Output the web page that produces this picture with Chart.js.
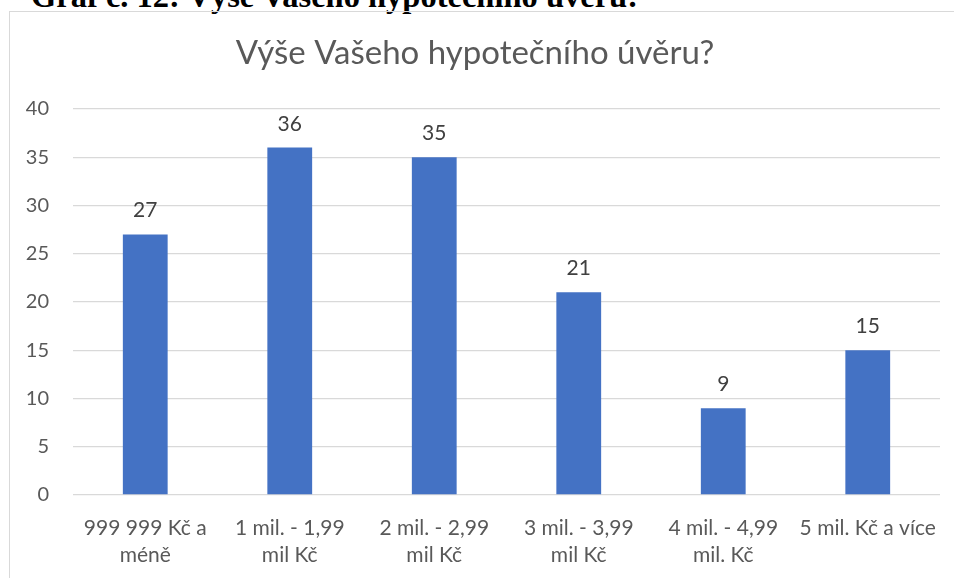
<!DOCTYPE html>
<html>
<head>
<meta charset="utf-8">
<script src="https://cdn.jsdelivr.net/npm/chart.js@4.4.1/dist/chart.umd.min.js"></script>
<style>
  html, body { margin: 0; padding: 0; background: #fff; overflow: hidden; width: 954px; height: 578px; }
  #caption { position: absolute; left: 31px; top: -20px; font: bold 32.5px "Liberation Serif", "Times New Roman", serif; line-height: 1; color: #000; white-space: nowrap; }
  #frame { position: absolute; left: 9px; top: 11px; width: 1000px; height: 600px; border: 1px solid #d9d9d9; background: transparent; }
  #wrap { position: absolute; left: 0; top: 0; width: 944px; height: 566px; }
</style>
</head>
<body>
<div id="caption">Graf č. 12: Výše Vašeho hypotečního úvěru:</div>
<div id="frame"><div id="wrap"><canvas id="c"></canvas></div></div>
<script>
const chartTitle = "Výše Vašeho hypotečního úvěru?";
const categories = [
  ["999 999 Kč a", "méně"],
  ["1 mil. - 1,99", "mil Kč"],
  ["2 mil. - 2,99", "mil Kč"],
  ["3 mil. - 3,99", "mil Kč"],
  ["4 mil. - 4,99", "mil. Kč"],
  ["5 mil. Kč a více"]
];
const values = [27, 36, 35, 21, 9, 15];
const yTicks = [0, 5, 10, 15, 20, 25, 30, 35, 40];

const FONT = "Lato, 'Open Sans', sans-serif";

const valueLabels = {
  id: 'valueLabels',
  afterDatasetsDraw(chart) {
    const ctx = chart.ctx;
    const meta = chart.getDatasetMeta(0);
    ctx.save();
    ctx.font = "21px " + FONT;
    ctx.fillStyle = "#404040";
    ctx.textAlign = "center";
    ctx.textBaseline = "alphabetic";
    meta.data.forEach((bar, i) => {
      ctx.fillText(String(values[i]), bar.x, bar.y - 17);
    });
    ctx.restore();
  }
};

new Chart(document.getElementById('c'), {
  type: 'bar',
  data: {
    labels: categories,
    datasets: [{
      data: values,
      backgroundColor: '#4472C4',
      borderWidth: 0,
      barPercentage: 0.31,
      categoryPercentage: 1.0
    }]
  },
  options: {
    responsive: true,
    maintainAspectRatio: false,
    animation: false,
    devicePixelRatio: 1,
    layout: { padding: { left: 0, right: 14, top: 0, bottom: 0 } },
    plugins: {
      legend: { display: false },
      tooltip: { enabled: false },
      title: {
        display: true,
        text: chartTitle,
        color: '#595959',
        font: { family: FONT, size: 33, weight: 'normal', lineHeight: 1.2 },
        padding: { top: 22, bottom: 35.4 }
      }
    },
    scales: {
      x: {
        grid: { display: false, drawTicks: false },
        border: { display: false },
        ticks: {
          color: '#595959',
          font: { family: FONT, size: 21, lineHeight: 1.27 },
          padding: 20,
          maxRotation: 0,
          autoSkip: false
        },
        afterFit(scale) {
          scale.height = 83;
          scale.paddingLeft = 0;
          scale.paddingRight = 0;
        }
      },
      y: {
        min: 0,
        max: 40,
        afterBuildTicks(scale) { scale.ticks = yTicks.map(v => ({ value: v })); },
        grid: { color: '#d9d9d9', lineWidth: 1.3, drawTicks: false },
        border: { display: false },
        ticks: {
          color: '#595959',
          font: { family: FONT, size: 20 },
          padding: 24
        },
        afterFit(scale) { scale.width = 63; }
      }
    }
  },
  plugins: [valueLabels]
});
</script>
</body>
</html>
